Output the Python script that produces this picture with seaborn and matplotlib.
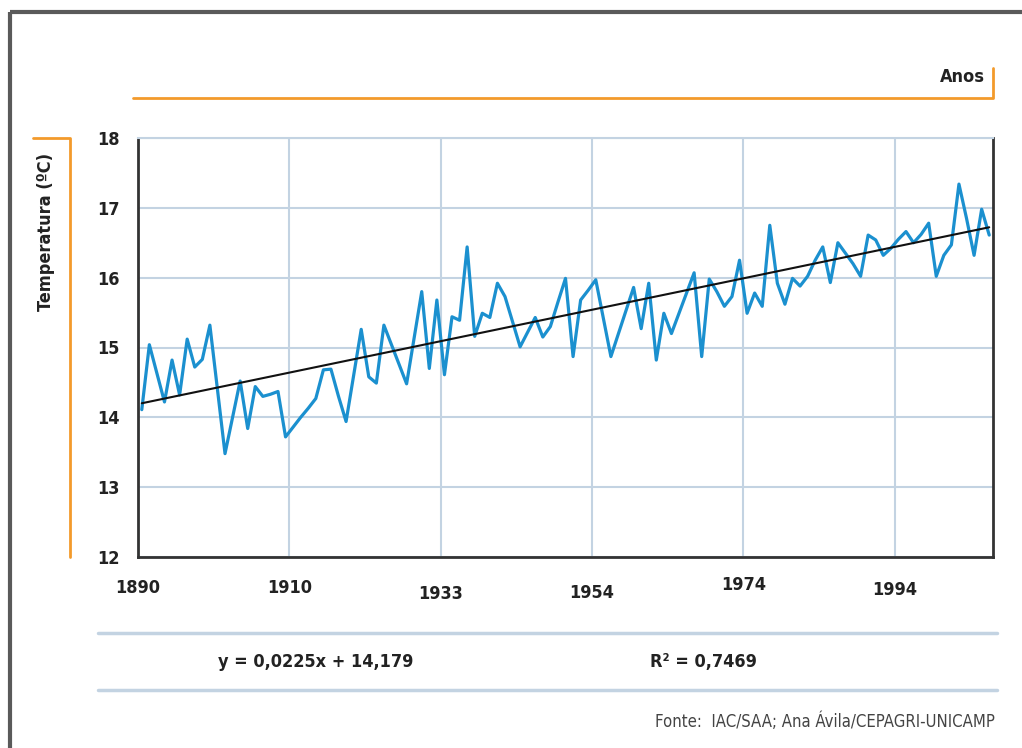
import numpy as np
import matplotlib
matplotlib.use("Agg")
import matplotlib.pyplot as plt
import matplotlib.transforms as mtransforms
from matplotlib import font_manager
import seaborn as sns

# Annual mean temperature (ºC), one value per point
temps = [
    14.11, 15.04, 14.63, 14.22, 14.82, 14.32, 15.12, 14.72, 14.83, 15.32,
    14.40, 13.48, 14.00, 14.52, 13.84, 14.44, 14.30, 14.33, 14.37, 13.72,
    13.86, 14.00, 14.13, 14.27, 14.68, 14.69, 14.30, 13.94, 14.60, 15.26,
    14.58, 14.49, 15.32, 15.04, 14.76, 14.48, 15.14, 15.80, 14.70, 15.68,
    14.61, 15.44, 15.39, 16.44, 15.16, 15.49, 15.43, 15.92, 15.73, 15.37,
    15.01, 15.22, 15.43, 15.15, 15.30, 15.65, 15.99, 14.87, 15.68, 15.82,
    15.97, 15.42, 14.87, 15.20, 15.53, 15.86, 15.27, 15.92, 14.82, 15.49,
    15.20, 15.49, 15.78, 16.07, 14.87, 15.98, 15.80, 15.59, 15.73, 16.25,
    15.49, 15.78, 15.59, 16.75, 15.92, 15.62, 15.99, 15.88, 16.02, 16.25,
    16.44, 15.93, 16.50, 16.35, 16.20, 16.02, 16.61, 16.54, 16.32, 16.42,
    16.55, 16.66, 16.50, 16.62, 16.78, 16.02, 16.32, 16.47, 17.34, 16.85,
    16.32, 16.98, 16.61,
]
year_labels = ["1890", "1910", "1933", "1954", "1974", "1994"]
y_ticks = [12, 13, 14, 15, 16, 17, 18]

# linear trend given on the chart (x counted from 1)
slope = 0.0225
intercept = 14.179
r2 = 0.7469

BLUE = "#1b90cf"
GRID = "#c3d3e2"
ORANGE = "#f39a2b"
DARK = "#333333"
TEXT = "#222222"

sns.set_style("white")

# the original uses a condensed sans; take a narrow face when there is one
installed = font_manager.fontManager.ttflist
names = {f.name for f in installed}
if "Liberation Sans Narrow" in names:
    plt.rcParams["font.family"] = ["Liberation Sans Narrow", "DejaVu Sans"]
    SCALE = 1.12
else:
    plt.rcParams["font.family"] = ["DejaVu Sans"]
    if any(f.name == "DejaVu Sans" and f.stretch == "condensed" for f in installed):
        plt.rcParams["font.stretch"] = "condensed"
        SCALE = 1.0
    else:
        SCALE = 0.9

W, H = 1022, 748
fig = plt.figure(figsize=(W / 100, H / 100), dpi=100)

# background layer in pixel coordinates for frame and decorations
bg = fig.add_axes([0, 0, 1, 1], zorder=0)
bg.set_xlim(0, W)
bg.set_ylim(H, 0)
bg.axis("off")

# outer frame (top and left)
bg.plot([10, W], [12, 12], color="#5a5a5a", lw=3, solid_capstyle="butt")
bg.plot([10, 10], [12, H], color="#5a5a5a", lw=3, solid_capstyle="butt")

# "Anos" header with orange bracket
bg.plot([133, 993, 993], [98, 98, 68], color=ORANGE, lw=2)
bg.text(985, 77, "Anos", ha="right", va="center", fontsize=13 * SCALE,
        fontweight="bold", color=TEXT)

# y label with orange bracket
bg.plot([33, 70, 70], [138, 138, 557], color=ORANGE, lw=2)
bg.text(46, 232, "Temperatura (ºC)", rotation=90, ha="center", va="center",
        fontsize=13 * SCALE, fontweight="bold", color=TEXT)

# equation strip
bg.plot([98, 997], [633, 633], color=GRID, lw=2.5)
bg.plot([98, 997], [690, 690], color=GRID, lw=2.5)
bg.text(316, 662, "y = 0,0225x + 14,179", ha="center", va="center",
        fontsize=13 * SCALE, fontweight="bold", color=TEXT)
bg.text(703, 662, f"R² = {r2:.4f}".replace(".", ","), ha="center", va="center",
        fontsize=13 * SCALE, fontweight="bold", color=TEXT)
bg.text(995, 722, "Fonte:  IAC/SAA; Ana Ávila/CEPAGRI-UNICAMP", ha="right", va="center",
        fontsize=12 * SCALE, color="#444444")

# main plot
ax = fig.add_axes([138 / W, 1 - 557 / H, (993 - 138) / W, (557 - 138) / H], zorder=1)
ax.patch.set_alpha(0)

idx = np.arange(len(temps))
sns.lineplot(x=idx, y=temps, ax=ax, color=BLUE, lw=2.3, zorder=3)
trend = intercept + slope * (idx + 1)
sns.lineplot(x=idx, y=trend, ax=ax, color="#111111", lw=1.5, zorder=4)

ax.set_xlim(-0.5, len(temps) - 0.5)
ax.set_ylim(12, 18)
ax.set_yticks(y_ticks)
ax.set_yticklabels([str(t) for t in y_ticks])
ax.set_xticks(np.arange(-0.5, len(temps), 20)[:len(year_labels)])
ax.set_xticklabels(year_labels)

ax.grid(True, color=GRID, lw=1.5)
ax.tick_params(axis="both", colors=GRID, length=4, width=1.5)
ax.tick_params(axis="x", pad=12, labelcolor=TEXT, labelsize=13 * SCALE)
ax.tick_params(axis="y", pad=9, labelcolor=TEXT, labelsize=13 * SCALE)
for lab in ax.get_xticklabels() + ax.get_yticklabels():
    lab.set_fontweight("bold")

# the year labels sit at slightly uneven heights in the original
label_shift = [0, 0, -6, -5, 3, -2]
for lab, dy in zip(ax.get_xticklabels(), label_shift):
    lab.set_transform(lab.get_transform() +
                      mtransforms.ScaledTranslation(0, dy / 100, fig.dpi_scale_trans))

for side in ["left", "bottom", "right"]:
    ax.spines[side].set_color(DARK)
    ax.spines[side].set_linewidth(2)
ax.spines["top"].set_color(GRID)
ax.spines["top"].set_linewidth(1.5)

fig.savefig("out.png", dpi=100)
